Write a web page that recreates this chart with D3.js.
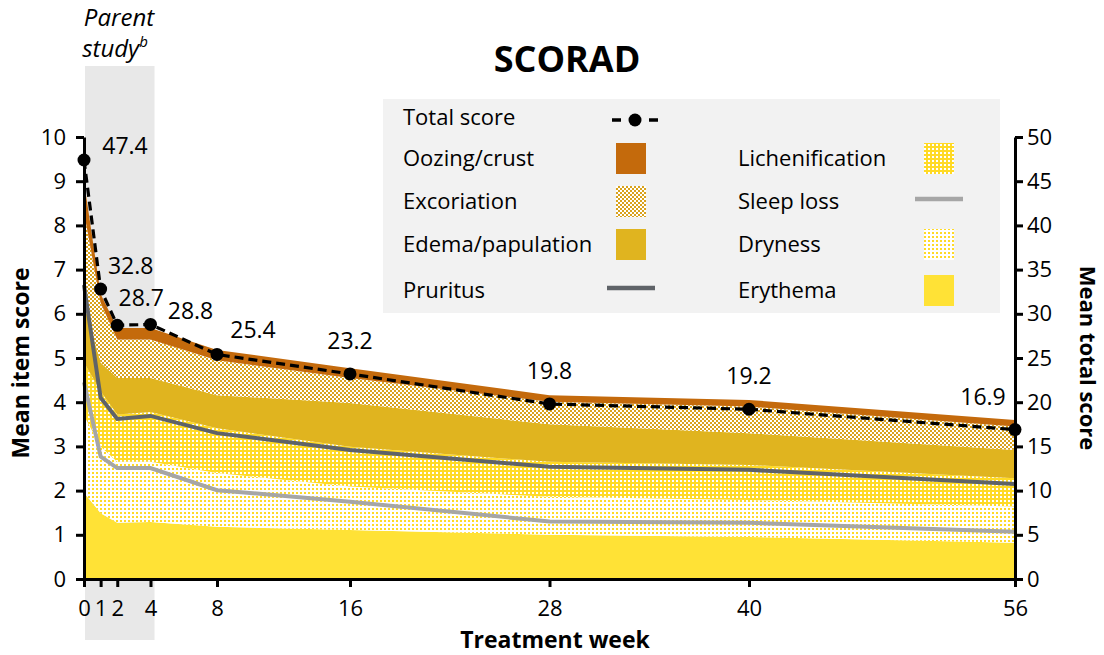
<!DOCTYPE html>
<html>
<head>
<meta charset="utf-8">
<script src="https://cdn.jsdelivr.net/npm/d3@7"></script>
<style>
  body { margin: 0; background: #fff; }
  svg text { font-family: "Open Sans", "Noto Sans", sans-serif; fill: #000; }
</style>
</head>
<body>
<svg id="chart" width="1104" height="655"></svg>
<script>
// ==============================
// DATA
// ==============================
const weeks = [0, 1, 2, 4, 8, 16, 28, 40, 56];

// mean item scores (stacked, bottom to top)
const erythema        = [1.95, 1.49, 1.27, 1.29, 1.18, 1.11, 1.00, 0.95, 0.82];
const dryness         = [1.75, 1.51, 1.38, 1.36, 1.22, 0.98, 0.86, 0.84, 0.82];
const lichenification = [1.20, 1.25, 1.07, 1.13, 1.01, 0.90, 0.79, 0.79, 0.64];
const edema           = [1.30, 0.65, 0.83, 0.77, 0.75, 0.99, 0.85, 0.72, 0.64];
const excoriation     = [2.10, 1.35, 0.87, 0.87, 0.79, 0.57, 0.51, 0.60, 0.53];
const oozing          = [0.70, 0.20, 0.26, 0.26, 0.23, 0.22, 0.15, 0.15, 0.15];

// lines on the item scale
const pruritus  = [6.65, 4.10, 3.62, 3.69, 3.30, 2.92, 2.54, 2.47, 2.15];
const sleepLoss = [4.45, 2.77, 2.51, 2.51, 2.01, 1.75, 1.30, 1.27, 1.07];

// total score on the right axis
const totalScore = [47.4, 32.8, 28.7, 28.8, 25.4, 23.2, 19.8, 19.2, 16.9];

const itemTicks  = [0, 1, 2, 3, 4, 5, 6, 7, 8, 9, 10];
const totalTicks = [0, 5, 10, 15, 20, 25, 30, 35, 40, 45, 50];

// ==============================
// SETUP
// ==============================
const svg = d3.select("#chart");
const plotLeft = 84, plotRight = 1015, plotTop = 137, plotBottom = 579;
const FONT = "'Open Sans', 'Noto Sans', sans-serif";

const x = d3.scaleLinear().domain([0, 56]).range([plotLeft, plotRight]);
const y = d3.scaleLinear().domain([0, 10]).range([plotBottom, plotTop]);
const y2 = d3.scaleLinear().domain([0, 50]).range([plotBottom, plotTop]);

const YELLOW = "#FFE236";
const PAT_YELLOW = "#FFDA26";
const GOLD = "#E0B41F";
const GOLD_PAT = "#D9A21C";
const ORANGE = "#C46A0C";

// ==============================
// PATTERNS
// ==============================
const defs = svg.append("defs");

function makePattern(id, size, bg, fg, cells) {
  const p = defs.append("pattern")
    .attr("id", id)
    .attr("patternUnits", "userSpaceOnUse")
    .attr("width", size).attr("height", size);
  p.append("rect").attr("width", size).attr("height", size).attr("fill", bg);
  cells.forEach(c => {
    p.append("rect").attr("x", c[0]).attr("y", c[1])
      .attr("width", c[2]).attr("height", c[2]).attr("fill", fg);
  });
}
makePattern("pExcoriation", 4, "#fff", GOLD_PAT, [[0, 0, 2], [2, 2, 2]]);
makePattern("pLichen", 4, PAT_YELLOW, "#fff", [[0, 0, 2]]);
makePattern("pDryness", 4, "#fff", PAT_YELLOW, [[0, 0, 2]]);

// ==============================
// SHADED PARENT STUDY BAND
// ==============================
svg.append("rect")
  .attr("x", x(0) + 1).attr("y", 66)
  .attr("width", x(4) - x(0) + 3).attr("height", 640 - 66)
  .attr("fill", "#E8E8E8");

svg.append("text").attr("x", 119).attr("y", 26)
  .attr("text-anchor", "middle").attr("font-style", "italic")
  .attr("font-size", 24).text("Parent");
const st = svg.append("text").attr("x", 115).attr("y", 57)
  .attr("text-anchor", "middle").attr("font-style", "italic")
  .attr("font-size", 24);
st.append("tspan").text("study");
st.append("tspan").attr("font-size", 15).attr("dy", -10).text("b");

// ==============================
// STACKED AREAS
// ==============================
const layers = [
  { name: "Erythema", vals: erythema, fill: YELLOW },
  { name: "Dryness", vals: dryness, fill: "url(#pDryness)" },
  { name: "Lichenification", vals: lichenification, fill: "url(#pLichen)" },
  { name: "Edema/papulation", vals: edema, fill: GOLD },
  { name: "Excoriation", vals: excoriation, fill: "url(#pExcoriation)" },
  { name: "Oozing/crust", vals: oozing, fill: ORANGE }
];

const table = weeks.map((w, i) => {
  const row = { week: w };
  layers.forEach(l => { row[l.name] = l.vals[i]; });
  return row;
});

const stack = d3.stack().keys(layers.map(l => l.name));
const series = stack(table);

const area = d3.area()
  .x(d => x(d.data.week))
  .y0(d => y(d[0]))
  .y1(d => y(d[1]));

svg.append("g").selectAll("path")
  .data(series)
  .join("path")
  .attr("d", area)
  .attr("fill", (d, i) => layers[i].fill);

// ==============================
// LINES
// ==============================
const itemLine = d3.line().x((d, i) => x(weeks[i])).y(d => y(d));

svg.append("path").attr("d", itemLine(sleepLoss))
  .attr("fill", "none").attr("stroke", "#A6A6A6").attr("stroke-width", 4);
svg.append("path").attr("d", itemLine(pruritus))
  .attr("fill", "none").attr("stroke", "#5F6368").attr("stroke-width", 4);

const totalLine = d3.line().x((d, i) => x(weeks[i])).y(d => y2(d));
svg.append("path").attr("d", totalLine(totalScore))
  .attr("fill", "none").attr("stroke", "#000")
  .attr("stroke-width", 3.2).attr("stroke-dasharray", "9,5");

svg.append("g").selectAll("circle")
  .data(totalScore)
  .join("circle")
  .attr("cx", (d, i) => x(weeks[i]))
  .attr("cy", d => y2(d))
  .attr("r", 6.5)
  .attr("fill", "#000");

// data labels (offsets from each point)
const labelOffsets = [[41, -6], [30, -15], [24, -19], [40, -5], [36, -16], [0, -25], [0, -25], [0, -25], [-32, -25]];
svg.append("g").selectAll("text")
  .data(totalScore)
  .join("text")
  .attr("x", (d, i) => x(weeks[i]) + labelOffsets[i][0])
  .attr("y", (d, i) => y2(d) + labelOffsets[i][1])
  .attr("text-anchor", "middle")
  .attr("font-size", 23)
  .text(d => d.toFixed(1));

// ==============================
// AXES
// ==============================
const axisStyle = g => {
  g.selectAll("path.domain").attr("stroke", "#000").attr("stroke-width", 3);
  g.selectAll(".tick line").attr("stroke", "#000").attr("stroke-width", 3);
  g.selectAll(".tick text").attr("font-size", 22)
    .attr("font-family", FONT).attr("fill", "#000");
};

svg.append("g")
  .attr("transform", `translate(${plotLeft},0)`)
  .call(d3.axisLeft(y).tickValues(itemTicks).tickSize(8).tickSizeOuter(0).tickPadding(10))
  .call(axisStyle);

svg.append("g")
  .attr("transform", `translate(${plotRight},0)`)
  .call(d3.axisRight(y2).tickValues(totalTicks).tickSize(8).tickSizeOuter(0).tickPadding(4))
  .call(axisStyle);

svg.append("g")
  .attr("transform", `translate(0,${plotBottom})`)
  .call(d3.axisBottom(x).tickValues(weeks).tickSize(8).tickSizeOuter(0).tickPadding(13))
  .call(axisStyle);

// axis titles
svg.append("text")
  .attr("transform", "translate(29,363) rotate(-90)")
  .attr("text-anchor", "middle").attr("font-weight", "bold")
  .attr("font-size", 23).text("Mean item score");

svg.append("text")
  .attr("transform", "translate(1080,358) rotate(90)")
  .attr("text-anchor", "middle").attr("font-weight", "bold")
  .attr("font-size", 22).text("Mean total score");

svg.append("text")
  .attr("x", 555).attr("y", 648)
  .attr("text-anchor", "middle").attr("font-weight", "bold")
  .attr("font-size", 23).text("Treatment week");

svg.append("text")
  .attr("x", 567).attr("y", 72)
  .attr("text-anchor", "middle").attr("font-weight", "bold")
  .attr("font-size", 36).text("SCORAD");

// ==============================
// LEGEND
// ==============================
const legend = svg.append("g");
legend.append("rect")
  .attr("x", 383).attr("y", 99).attr("width", 617).attr("height", 214)
  .attr("fill", "#F2F2F2");

const legendItems = [
  { label: "Total score", kind: "total", col: 0, row: 0 },
  { label: "Oozing/crust", kind: "box", fill: ORANGE, col: 0, row: 1 },
  { label: "Excoriation", kind: "box", fill: "url(#pExcoriation)", col: 0, row: 2 },
  { label: "Edema/papulation", kind: "box", fill: GOLD, col: 0, row: 3 },
  { label: "Pruritus", kind: "line", stroke: "#5F6368", col: 0, row: 4 },
  { label: "Lichenification", kind: "box", fill: "url(#pLichen)", col: 1, row: 1 },
  { label: "Sleep loss", kind: "line", stroke: "#A6A6A6", col: 1, row: 2 },
  { label: "Dryness", kind: "box", fill: "url(#pDryness)", col: 1, row: 3 },
  { label: "Erythema", kind: "box", fill: YELLOW, col: 1, row: 4 }
];
const rowY = [117, 158, 201, 244, 290];
const colText = [403, 738];
const colSwatch = [631, 939];

legendItems.forEach(it => {
  const cy = rowY[it.row];
  legend.append("text")
    .attr("x", colText[it.col]).attr("y", cy + 8)
    .attr("font-size", 22).text(it.label);
  const sx = colSwatch[it.col];
  if (it.kind === "box") {
    legend.append("rect")
      .attr("x", sx - 15).attr("y", cy - 15).attr("width", 30).attr("height", 31)
      .attr("fill", it.fill);
  } else if (it.kind === "line") {
    legend.append("line")
      .attr("x1", sx - 24).attr("x2", sx + 24).attr("y1", cy - 2).attr("y2", cy - 2)
      .attr("stroke", it.stroke).attr("stroke-width", 4.5);
  } else {
    legend.append("line")
      .attr("x1", sx - 19).attr("x2", sx + 27).attr("y1", cy + 3).attr("y2", cy + 3)
      .attr("stroke", "#000").attr("stroke-width", 3.5).attr("stroke-dasharray", "9,9.5");
    legend.append("circle").attr("cx", sx + 4).attr("cy", cy + 3).attr("r", 6.5).attr("fill", "#000");
  }
});
</script>
</body>
</html>
